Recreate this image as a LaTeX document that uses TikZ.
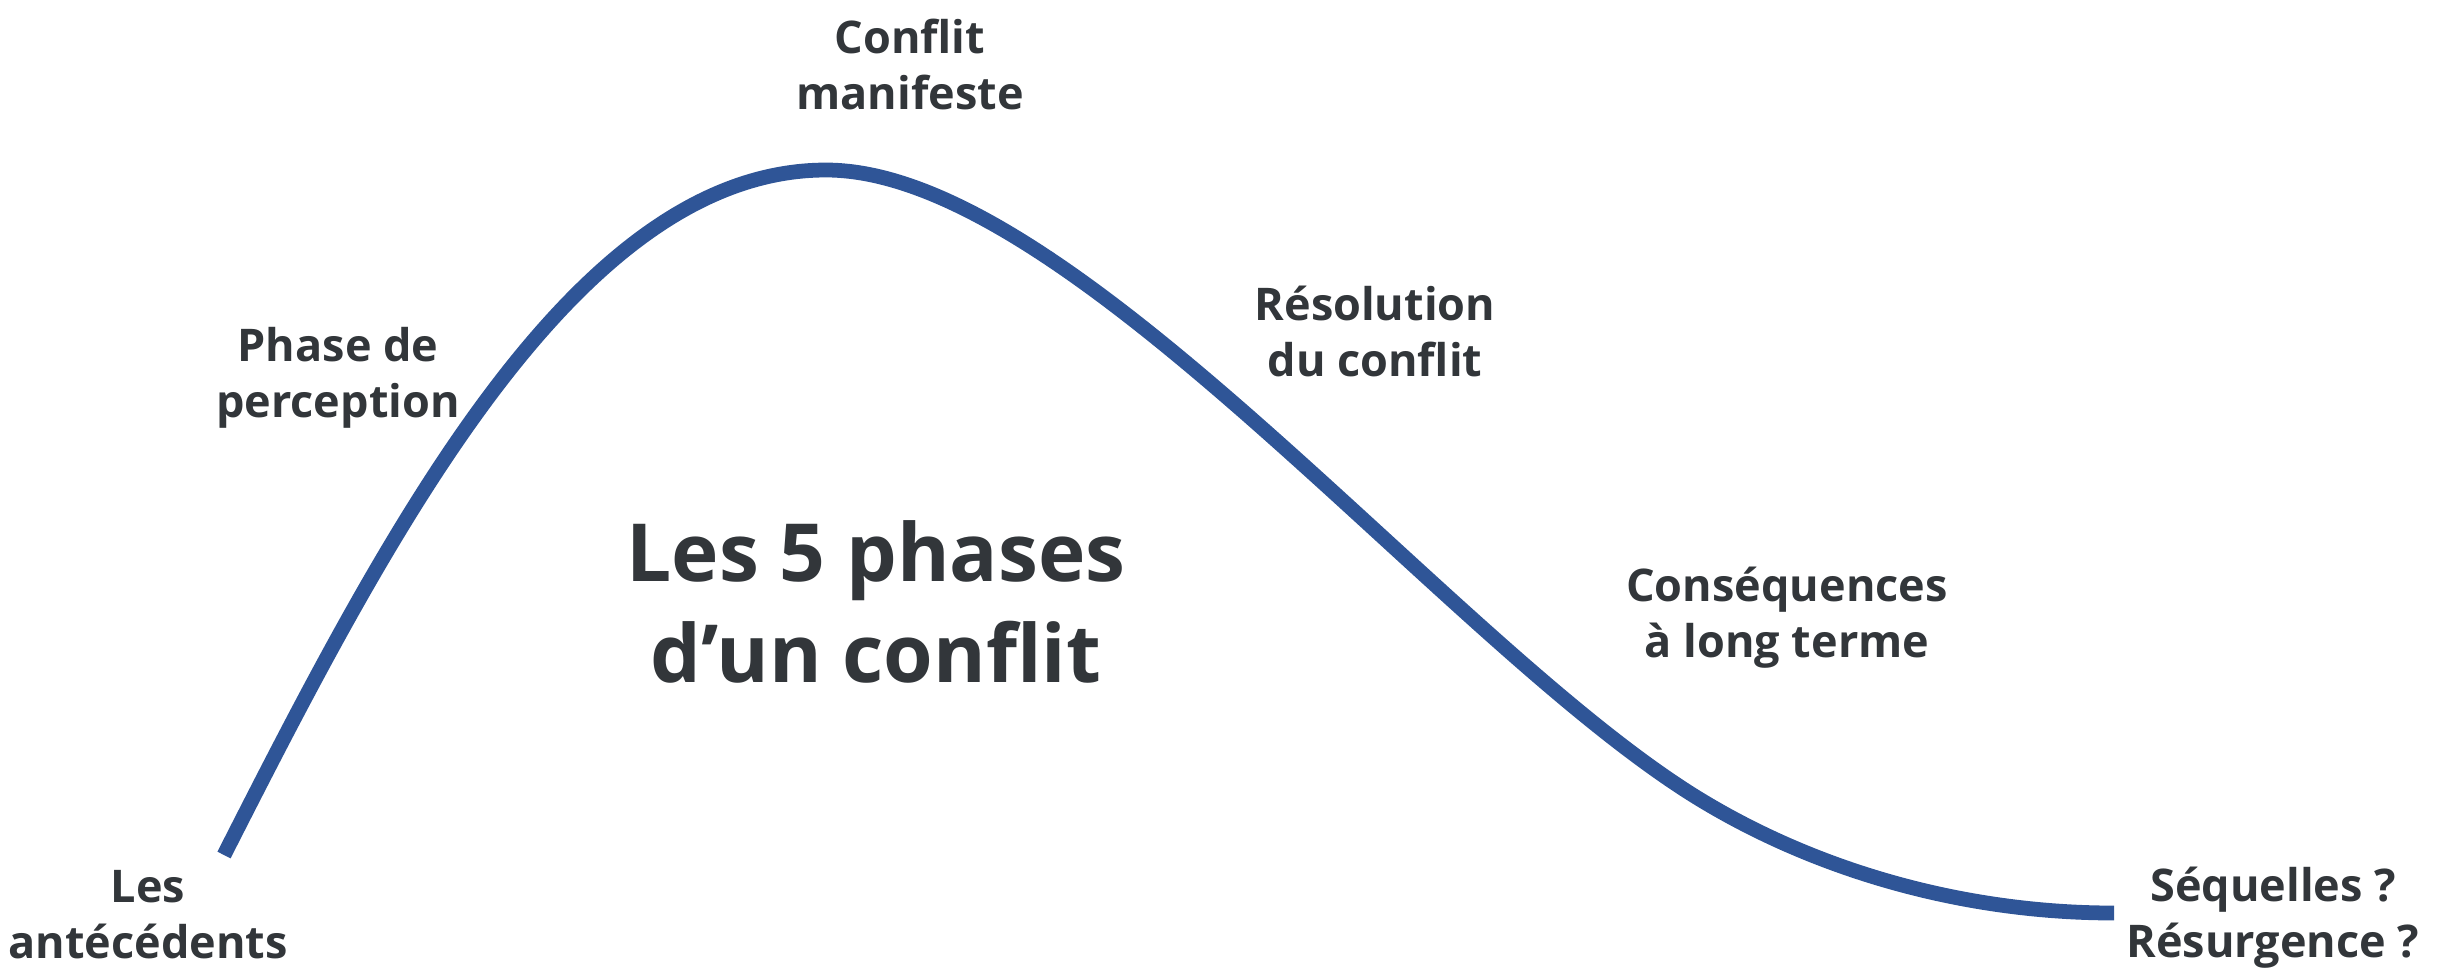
\documentclass[tikz,border=0pt]{standalone}
\usepackage{fontspec}
\setmainfont{Open Sans}
\definecolor{curveblue}{RGB}{47,85,151}
\definecolor{labelgray}{RGB}{50,54,58}
\begin{document}
\begin{tikzpicture}[x=0.01cm, y=-0.01cm,
  phasecurve/.style={draw=curveblue, line width=4.2pt},
  phaselabel/.style={text=labelgray, font=\bfseries\fontsize{12.8pt}{15.9pt}\selectfont,
    align=center, inner sep=0pt, anchor=base},
  titlelabel/.style={text=labelgray, font=\bfseries\fontsize{22.8pt}{28.45pt}\selectfont,
    align=center, inner sep=0pt, anchor=base}]
  \useasboundingbox (0,0) rectangle (2443,969);

  % the curve of a conflict: rise, peak, decline, long tail
  \coordinate (start) at (224,855);
  \coordinate (peak) at (826,170);
  \coordinate (knee) at (1696,797);
  \coordinate (finish) at (2114,913);
  \draw[phasecurve] (start) .. controls (388,532) and (576,170) .. (peak)
                    .. controls (1071,170) and (1446,642) .. (knee)
                    .. controls (1816,871) and (1964,913) .. (finish);

  % phase labels (anchored on the baseline of their last line)
  \node[phaselabel] (antecedents) at (148,958) {Les\\antécédents};
  \node[phaselabel] (perception) at (338,417) {Phase de\\perception};
  \node[phaselabel] (manifeste) at (910,109) {Conflit\\manifeste};
  \node[phaselabel] (resolution) at (1375,376) {Résolution\\du conflit};
  \node[phaselabel] (consequences) at (1787,657) {Conséquences\\à long terme};
  \node[phaselabel] (sequelles) at (2273,957) {Séquelles ?\\Résurgence ?};

  % title
  \node[titlelabel] (title) at (876,682) {Les 5 phases\\d’un conflit};
\end{tikzpicture}
\end{document}
